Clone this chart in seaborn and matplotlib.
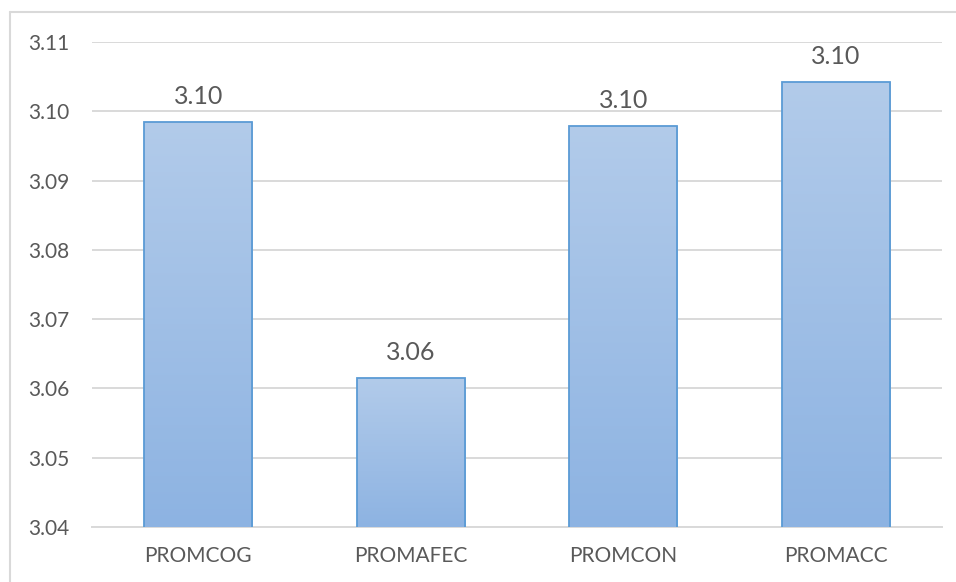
import matplotlib
matplotlib.use("Agg")
import matplotlib.pyplot as plt
from matplotlib.lines import Line2D
import numpy as np
import pandas as pd
import seaborn as sns

categories = ["PROMCOG", "PROMAFEC", "PROMCON", "PROMACC"]
values = [3.0985, 3.0615, 3.0979, 3.1042]
y_ticks = [3.04, 3.05, 3.06, 3.07, 3.08, 3.09, 3.10, 3.11]

sns.set_theme(style="white")
plt.rcParams["font.family"] = ["Lato", "DejaVu Sans"]

text_color = "#595959"
grid_color = "#d9d9d9"
edge_color = "#5b9bd5"
y_min, y_max = 3.04, 3.11

df = pd.DataFrame({"cat": categories, "val": values})

fig = plt.figure(figsize=(9.56, 5.82), dpi=100)
ax = fig.add_axes([92 / 956, 1 - 527 / 582, 850 / 956, 485 / 582])

sns.barplot(data=df, x="cat", y="val", ax=ax, width=0.51,
            color="#a7c3e6", edgecolor=edge_color, linewidth=1.3, zorder=3)

ax.set_yticks(y_ticks)
ax.set_yticklabels([f"{t:.2f}" for t in y_ticks])
ax.set_xlabel("")
ax.set_ylabel("")

# vertical gradient fill inside each bar (visible part only)
grad = np.linspace(0, 1, 256).reshape(-1, 1)
cmap = matplotlib.colors.LinearSegmentedColormap.from_list(
    "barfill", ["#b2cbea", "#8db3e2"])
for patch in ax.patches:
    x0, w = patch.get_x(), patch.get_width()
    top = patch.get_y() + patch.get_height()
    im = ax.imshow(grad, extent=[x0, x0 + w, y_min, top], origin="upper",
                   aspect="auto", cmap=cmap, zorder=3.5)
    im.set_clip_path(patch)
    patch.set_facecolor("none")
    patch.set_zorder(4)

ax.set_xlim(-0.5, len(categories) - 0.5)
ax.set_ylim(y_min, y_max)

for i, v in enumerate(values):
    ax.annotate(f"{v:.2f}", (i, v), xytext=(0, 10), textcoords="offset points",
                ha="center", va="bottom", fontsize=18, color=text_color)

ax.yaxis.grid(True, color=grid_color, linewidth=1.4, zorder=0)
ax.set_axisbelow(True)
for side in ["top", "right", "left"]:
    ax.spines[side].set_visible(False)
ax.spines["bottom"].set_color(grid_color)
ax.spines["bottom"].set_linewidth(1.4)
ax.tick_params(axis="both", length=0, labelsize=15, labelcolor=text_color)
ax.tick_params(axis="y", pad=16)
ax.tick_params(axis="x", pad=14)

# chart-area border
fig.add_artist(Line2D([10 / 956, 1], [1 - 12 / 582, 1 - 12 / 582],
                      transform=fig.transFigure, color=grid_color, linewidth=1.5))
fig.add_artist(Line2D([10 / 956, 10 / 956], [0, 1 - 12 / 582],
                      transform=fig.transFigure, color=grid_color, linewidth=1.5))

fig.savefig("out.png", dpi=100, facecolor="white")
